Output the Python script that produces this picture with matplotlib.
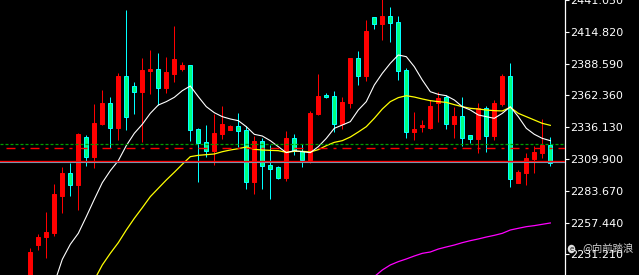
import numpy as np
import matplotlib
matplotlib.use("Agg")
import matplotlib.pyplot as plt
from matplotlib.patches import Ellipse

plt.rcParams["lines.scale_dashes"] = False
nan = np.nan

# ---------------- data ----------------
opens = [2210.0, 2238.9, 2245.5, 2248.8, 2279.6, 2298.3, 2288.4, 2328.0, 2311.8, 2338.75,
         2356.05, 2335.7, 2378.35, 2370.1, 2365.4, 2382.5, 2384.1, 2368.7, 2380.3, 2384.1,
         2387.4, 2334.6, 2323.9, 2316.75, 2330.8, 2334.1, 2337.1, 2333.8, 2291.2, 2324.7,
         2305.2, 2303.3, 2294.45, 2327.5, 2316.75, 2309.3, 2347.3, 2362.7, 2361.85, 2338.75,
         2356.05, 2393.2, 2378.35, 2427.0, 2421.5, 2428.1, 2422.9, 2383.3, 2332.4, 2336.3,
         2335.7, 2356.05, 2361.0, 2339.0, 2345.35, 2329.7, 2326.65, 2352.2, 2329.1, 2354.95,
         2378.05, 2290.35, 2298.3, 2310.15, 2315.1, 2321.4]
highs = [2236.7, 2248.3, 2266.4, 2289.5, 2303.3, 2306.85, 2331.3, 2329.7, 2355.5, 2367.1,
         2361.0, 2380.8, 2432.8, 2373.4, 2393.2, 2399.8, 2397.6, 2394.0, 2419.9, 2389.9,
         2387.4, 2335.7, 2337.9, 2346.7, 2353.6, 2337.9, 2347.8, 2337.1, 2329.1, 2327.2,
         2321.4, 2304.4, 2333.0, 2330.5, 2322.25, 2349.75, 2380.0, 2364.3, 2365.9, 2361.0,
         2393.2, 2399.0, 2424.55, 2427.0, 2445.0, 2435.3, 2428.1, 2384.95, 2348.65, 2342.05,
         2358.55, 2365.15, 2362.7, 2352.8, 2361.0, 2329.7, 2356.05, 2353.3, 2358.55, 2380.0,
         2389.1, 2301.1, 2314.55, 2320.3, 2342.9, 2328.0]
lows = [2205.0, 2235.1, 2228.5, 2246.6, 2265.3, 2279.6, 2268.1, 2304.4, 2302.7, 2337.65,
        2319.2, 2325.8, 2334.1, 2347.3, 2324.2, 2363.5, 2354.15, 2364.3, 2373.7, 2382.5,
        2324.7, 2291.2, 2311.8, 2305.2, 2326.4, 2333.5, 2320.05, 2285.4, 2281.3, 2285.4,
        2277.15, 2293.4, 2292.0, 2313.45, 2303.55, 2306.85, 2346.2, 2360.2, 2332.4, 2334.6,
        2352.2, 2370.9, 2374.2, 2417.1, 2408.05, 2406.4, 2375.05, 2327.5, 2325.8, 2332.4,
        2334.6, 2340.4, 2334.9, 2327.2, 2320.9, 2323.35, 2315.1, 2315.9, 2325.8, 2353.6,
        2287.05, 2290.35, 2288.4, 2298.3, 2311.0, 2304.4]
closes = [2233.4, 2245.5, 2249.65, 2281.0, 2298.3, 2288.4, 2330.8, 2311.8, 2339.6, 2356.05,
          2335.7, 2378.35, 2344.8, 2365.4, 2383.3, 2384.1, 2368.7, 2381.9, 2392.4, 2387.4,
          2334.1, 2323.35, 2316.75, 2331.3, 2338.75, 2337.1, 2333.25, 2291.2, 2324.7, 2304.4,
          2301.9, 2294.45, 2327.5, 2316.75, 2309.3, 2347.8, 2361.85, 2361.3, 2338.75, 2357.2,
          2393.2, 2378.35, 2415.5, 2421.5, 2428.1, 2422.1, 2382.5, 2332.4, 2334.6, 2337.9,
          2353.6, 2360.5, 2339.0, 2345.35, 2327.5, 2326.65, 2352.2, 2329.1, 2356.05, 2378.05,
          2293.65, 2299.15, 2310.7, 2315.65, 2321.4, 2306.85]

ma_fast = [nan] * 3 + [
    2207.3, 2227.1, 2239.5, 2248.55, 2262.3, 2276.6, 2290.35, 2300.25, 2308.5, 2320.9,
    2331.05, 2338.5, 2347.55, 2354.4, 2357.2, 2360.75, 2366.25, 2370.1, 2361.3, 2353.05,
    2348.1, 2344.8, 2342.9, 2341.5, 2336.55, 2330.25, 2328.85, 2325.0, 2320.05, 2315.1,
    2316.75, 2315.9, 2315.1, 2320.05, 2326.9, 2335.2, 2337.9, 2340.7, 2350.3, 2357.2,
    2370.9, 2380.55, 2388.8, 2395.7, 2394.3, 2386.05, 2375.05, 2365.4, 2363.2, 2362.1,
    2358.55, 2353.05, 2350.3, 2346.2, 2344.8, 2343.45, 2347.55, 2353.05, 2344.8, 2335.2,
    2330.25, 2326.9, 2325.0]
ma_mid = [nan] * 8 + [
    2210.05, 2222.45, 2232.05, 2240.85, 2251.3, 2260.9, 2269.7, 2278.8, 2285.7, 2292.55,
    2298.9, 2305.5, 2311.8, 2312.9, 2313.45, 2314.0, 2315.9, 2317.3, 2318.4, 2319.8,
    2317.85, 2317.3, 2317.0, 2316.75, 2315.4, 2316.2, 2316.2, 2315.65, 2317.6, 2320.9,
    2323.6, 2325.0, 2328.0, 2332.15, 2336.55, 2343.45, 2351.1, 2357.2, 2360.5, 2362.1,
    2361.0, 2359.4, 2358.0, 2357.2, 2356.6, 2354.7, 2353.05, 2351.7, 2351.1, 2350.3,
    2349.75, 2349.5, 2352.5, 2347.55, 2344.8, 2342.05, 2339.3, 2337.65]
ma_slow = [nan] * 43 + [
    2212.8, 2218.3, 2222.45, 2225.2, 2227.4, 2229.85, 2232.05, 2233.15, 2235.6, 2237.3,
    2238.9, 2240.85, 2242.5, 2243.9, 2245.5, 2246.9, 2248.55, 2251.3, 2252.7, 2254.05,
    2254.9, 2256.0, 2257.1]

tick_values = [2441.05, 2414.82, 2388.59, 2362.36, 2336.13, 2309.90, 2283.67, 2257.44, 2231.21]
tick_labels = ["2441.050", "2414.820", "2388.590", "2362.360", "2336.130",
               "2309.900", "2283.670", "2257.440", "2231.210"]

level_green = 2322.0
level_red_dashdot = 2318.7
ask_line = 2307.98
bid_line = 2307.15
watermark = "@向前踏浪"

# ---------------- figure ----------------
W, H = 639, 275
fig = plt.figure(figsize=(W / 100, H / 100), dpi=100, facecolor="black")
ax = fig.add_axes([0, 0, 565 / W, 1])
ax.set_facecolor("black")

o = np.array(opens); h = np.array(highs); l = np.array(lows); c = np.array(closes)
x = np.arange(len(o))
up = c >= o

lw1 = 0.72      # 1 pixel in points

# wicks
ax.vlines(x[up], l[up], h[up], color="#ff0000", lw=lw1, zorder=2)
ax.vlines(x[~up], l[~up], h[~up], color="#00ffff", lw=lw1, zorder=2)

# bodies
body_lo = np.minimum(o, c)
body_h = np.maximum(np.abs(c - o), 0.6)
ax.bar(x[up], body_h[up], bottom=body_lo[up], width=0.52, color="#ff0000",
       edgecolor="#ff0000", lw=lw1, zorder=3)
ax.bar(x[~up], body_h[~up], bottom=body_lo[~up], width=0.52, color="#00ff7f",
       edgecolor="#00ffff", lw=lw1, zorder=3)

# moving averages
ax.plot(x, ma_slow, color="#ff00ff", lw=0.9, zorder=4)
ax.plot(x, ma_mid, color="#ffff00", lw=0.9, zorder=4)
ax.plot(x, ma_fast, color="#ffffff", lw=0.8, zorder=5)

# horizontal levels
ax.axhline(level_green, color="#00a000", lw=0.9, dashes=(2.16, 1.44), zorder=6)
ax.axhline(level_red_dashdot, xmin=6 / 565, color="#ff0000", lw=1.0,
           dashes=(6.48, 4.32, 2.16, 4.32), zorder=6)
ax.axhline(ask_line, color="#ff0000", lw=0.95, zorder=6)
ax.axhline(bid_line, color="#8090a8", lw=0.8, zorder=6)

# axes scaling: 8 px per candle, first candle at 30.3 px
x0 = -30.3 / 8
ax.set_xlim(x0, x0 + 565 / 8)
ax.set_ylim(2441.05 - 275 * 0.825, 2441.05)

for s in ["left", "top", "bottom"]:
    ax.spines[s].set_visible(False)
ax.spines["right"].set_color("white")
ax.spines["right"].set_linewidth(0.9)
ax.set_xticks([])
ax.yaxis.tick_right()
ax.set_yticks(tick_values)
ax.set_yticklabels(tick_labels)
ax.tick_params(axis="y", direction="out", length=3, width=0.8, colors="white",
               labelsize=8, pad=0.8)
for t in ax.get_yticklabels():
    t.set_family("DejaVu Sans")

# watermark
fig.patches.append(Ellipse((571.5 / W, (H - 249) / H), 7.5 / W, 8.5 / H,
                           transform=fig.transFigure, facecolor="#ececec",
                           edgecolor="none", alpha=0.95, zorder=10))
fig.text(571.5 / W, (H - 249) / H, "e", color="#202020", fontsize=5,
         family="DejaVu Sans", ha="center", va="center", zorder=12)
fig.text(582 / W, (H - 248) / H, watermark, color="#e4e4e4", alpha=0.92,
         fontsize=7.5, family=["Noto Sans CJK SC", "DejaVu Sans"],
         ha="left", va="center", zorder=11)

fig.savefig("out.png", dpi=100, facecolor="black")
